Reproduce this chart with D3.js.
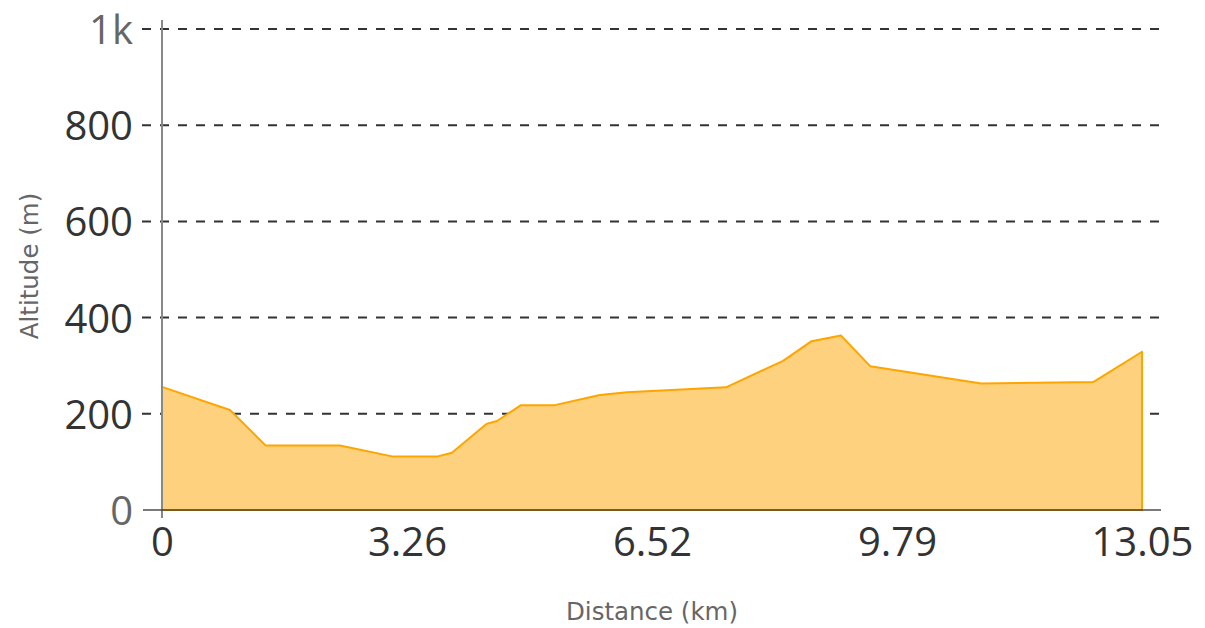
<!DOCTYPE html>
<html>
<head>
<meta charset="utf-8">
<script src="https://cdn.jsdelivr.net/npm/d3@7"></script>
<style>
  body { margin: 0; background: #fff; }
</style>
</head>
<body>
<svg id="chart" width="1205" height="628"></svg>
<script>
// elevation profile
const distKm = [0, 0.905, 1.38, 2.37, 3.08, 3.66, 3.86, 4.32, 4.46, 4.78, 5.23, 5.83, 6.19, 7.51, 8.27, 8.65, 9.04, 9.43, 10.91, 12.40, 13.05];
const altM = [256, 208, 134, 134, 111, 111, 119, 179, 185, 218, 218, 239, 245, 255, 310, 351, 363, 299, 263, 266, 329];

const xTicks = [0, 3.2625, 6.525, 9.7875, 13.05];
const xTickLabels = ["0", "3.26", "6.52", "9.79", "13.05"];
const yTicks = [0, 200, 400, 600, 800, 1000];
const yTickLabels = ["0", "200", "400", "600", "800", "1k"];

const svg = d3.select("#chart");

const x = d3.scaleLinear().domain([0, 13.05]).range([162, 1142]);
const y = d3.scaleLinear().domain([0, 1000]).range([510, 29]);

const points = distKm.map((d, i) => ({ d: d, a: altM[i] }));

// dashed grid lines (the 0 line is the solid axis)
svg.append("g")
  .selectAll("line")
  .data(yTicks.filter(v => v > 0))
  .join("line")
    .attr("x1", 142)
    .attr("x2", 1160)
    .attr("y1", d => y(d))
    .attr("y2", d => y(d))
    .attr("stroke", "#333")
    .attr("stroke-width", 2)
    .attr("stroke-dasharray", "9,9");

// elevation area
const area = d3.area()
  .x(p => x(p.d))
  .y0(y(0))
  .y1(p => y(p.a));

svg.append("path")
  .datum(points)
  .attr("d", d => area(d) + "Z")
  .attr("fill", "#fdd17d")
  .attr("stroke", "#ffa500")
  .attr("stroke-width", 2)
  .attr("stroke-linejoin", "round");

// y axis line
svg.append("line")
  .attr("x1", 162).attr("x2", 162)
  .attr("y1", 20).attr("y2", 518)
  .attr("stroke", "#888")
  .attr("stroke-width", 2);

// x axis line
svg.append("line")
  .attr("x1", 143).attr("x2", 1161)
  .attr("y1", y(0)).attr("y2", y(0))
  .attr("stroke", "#333")
  .attr("stroke-opacity", 0.65)
  .attr("stroke-width", 2);

// y tick labels
const yAxis = svg.append("g")
  .attr("transform", "translate(162,0)")
  .call(d3.axisLeft(y)
    .tickValues(yTicks)
    .tickSize(0)
    .tickPadding(29)
    .tickFormat((d, i) => yTickLabels[i]));
yAxis.select(".domain").remove();
yAxis.selectAll("text")
  .style("font-size", "40px")
  .style("font-family", "'Open Sans', sans-serif")
  .attr("dy", "0.36em")
  .attr("fill", d => (d === 0 || d === 1000) ? "#666" : "#333");

// x tick labels
const xAxis = svg.append("g")
  .attr("transform", "translate(0," + y(0) + ")")
  .call(d3.axisBottom(x)
    .tickValues(xTicks)
    .tickSize(0)
    .tickPadding(18)
    .tickFormat((d, i) => xTickLabels[i]));
xAxis.select(".domain").remove();
xAxis.selectAll("text")
  .style("font-size", "40px")
  .style("font-family", "'Open Sans', sans-serif")
  .attr("fill", "#333");

// axis titles
svg.append("text")
  .attr("x", 652)
  .attr("y", 620)
  .attr("text-anchor", "middle")
  .style("font-family", "'DejaVu Sans', sans-serif")
  .style("font-size", "24.5px")
  .attr("fill", "#666")
  .text("Distance (km)");

svg.append("text")
  .attr("transform", "translate(38,266) rotate(-90)")
  .attr("text-anchor", "middle")
  .style("font-family", "'DejaVu Sans', sans-serif")
  .style("font-size", "24.5px")
  .attr("fill", "#666")
  .text("Altitude (m)");
</script>
</body>
</html>
